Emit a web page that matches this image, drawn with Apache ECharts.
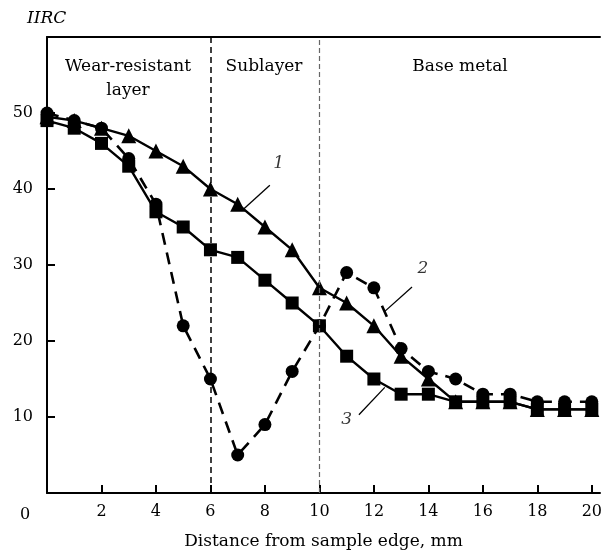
<!DOCTYPE html>
<html>
<head>
<meta charset="utf-8">
<script src="https://cdn.jsdelivr.net/npm/echarts@6/dist/echarts.min.js"></script>
<style>html,body{margin:0;padding:0;background:#fff}#c{width:605px;height:555px}</style>
</head>
<body>
<div id="c"></div>
<script>
// Data
var distance = [0,1,2,3,4,5,6,7,8,9,10,11,12,13,14,15,16,17,18,19,20];
var curve1 = [49.5,49,48,47,45,43,40,38,35,32,27,25,22,18,15,12,12,12,11,11,11];
var curve2 = [50,49,48,44,38,22,15,5,9,16,22,29,27,19,16,15,13,13,12,12,12];
var curve3 = [49,48,46,43,37,35,32,31,28,25,22,18,15,13,13,12,12,12,11,11,11];
var xTicks = [2,4,6,8,10,12,14,16,18,20];
var yTicks = [10,20,30,40,50];
var zoneBounds = [6,10];
var curveLabels = ['1','2','3'];
// leader lines in data coords: [from, to], label position
var leader1 = [[8.18,40.5],[7.2,37.3]], labelPos1 = [8.5,43.4];
var leader2 = [[13.4,27.1],[12.4,23.9]], labelPos2 = [13.8,29.5];
var leader3 = [[11.45,10.3],[12.4,13.9]], labelPos3 = [11.0,9.6];

function pairs(ys){return distance.map(function(x,i){return [x,ys[i]];});}

var serif = 'DejaVu Serif';
var chart = echarts.init(document.getElementById('c'), null, {renderer:'canvas'});
var leaderStyle = {color:'#000', width:1.3, type:'solid'};
function leader(seg){return [{coord:seg[0], symbol:'none'},{coord:seg[1], symbol:'none'}];}

chart.setOption({
  animation:false,
  backgroundColor:'#fff',
  grid:{left:47, right:0, top:37, bottom:58},
  xAxis:[{
    type:'value', min:0, max:20.3, interval:2,
    axisLine:{show:true, lineStyle:{color:'#000', width:2}},
    axisTick:{show:true, inside:true, length:8, lineStyle:{color:'#000', width:2},
      customValues: xTicks},
    axisLabel:{show:true, margin:11, color:'#000', fontFamily:serif, fontSize:16,
      customValues: xTicks},
    splitLine:{show:false},
    name:'Distance from sample edge, mm', nameLocation:'middle', nameGap:40,
    nameTextStyle:{color:'#000', fontFamily:serif, fontSize:17}
  },{
    type:'value', position:'top', min:0, max:20.3,
    axisLine:{show:true, onZero:false, lineStyle:{color:'#000', width:2}},
    axisTick:{show:false}, axisLabel:{show:false}, splitLine:{show:false}
  }],
  yAxis:{
    type:'value', min:0, max:60, interval:10,
    axisLine:{show:true, lineStyle:{color:'#000', width:2}},
    axisTick:{show:true, inside:true, length:8, lineStyle:{color:'#000', width:2}, customValues: yTicks},
    axisLabel:{show:true, margin:14, color:'#000', fontFamily:serif, fontSize:16, customValues: yTicks},
    splitLine:{show:false}
  },
  graphic:[
    {type:'text', left:27, top:10, style:{text:'IIRC', font:'italic 17px "DejaVu Serif"', fill:'#000'}},
    {type:'text', x:25, y:515, style:{text:'0', font:'16px "DejaVu Serif"', fill:'#000', textAlign:'center', textVerticalAlign:'middle'}},
    {type:'text', x:128, y:67, style:{text:'Wear-resistant', font:'17px "DejaVu Serif"', fill:'#000', textAlign:'center', textVerticalAlign:'middle'}},
    {type:'text', x:128, y:91, style:{text:'layer', font:'17px "DejaVu Serif"', fill:'#000', textAlign:'center', textVerticalAlign:'middle'}},
    {type:'text', x:264, y:67, style:{text:'Sublayer', font:'17px "DejaVu Serif"', fill:'#000', textAlign:'center', textVerticalAlign:'middle'}},
    {type:'text', x:460, y:67, style:{text:'Base metal', font:'17px "DejaVu Serif"', fill:'#000', textAlign:'center', textVerticalAlign:'middle'}}
  ],
  series:[
    {
      type:'line', name:'3', data:pairs(curve3), symbol:'rect', symbolSize:13,
      lineStyle:{color:'#000', width:2.4}, itemStyle:{color:'#000'},
      markLine:{silent:true, symbol:'none', label:{show:false}, lineStyle:leaderStyle,
        data:[leader(leader1), leader(leader2), leader(leader3)]}
    },
    {
      type:'line', name:'1', data:pairs(curve1), symbol:'triangle', symbolSize:15,
      lineStyle:{color:'#000', width:2.4}, itemStyle:{color:'#000'},
      markLine:{silent:true, symbol:'none', label:{show:false},
        data:[
          {xAxis:zoneBounds[0], lineStyle:{color:'#000', width:1.5, type:[6,4]}},
          {xAxis:zoneBounds[1], lineStyle:{color:'#666', width:1.2, type:[5,3]}}
        ]}
    },
    {
      type:'line', name:'2', data:pairs(curve2), symbol:'circle', symbolSize:13,
      lineStyle:{color:'#000', width:2.6, type:[12,8]}, itemStyle:{color:'#000'}
    },
    {
      type:'scatter', name:'labels', symbolSize:0, silent:true,
      data:[
        {value:labelPos1, label:{formatter:curveLabels[0]}},
        {value:labelPos2, label:{formatter:curveLabels[1]}},
        {value:labelPos3, label:{formatter:curveLabels[2]}}
      ],
      label:{show:true, position:'inside', color:'#000', fontFamily:serif, fontStyle:'italic', fontSize:17}
    }
  ]
});
</script>
</body>
</html>
